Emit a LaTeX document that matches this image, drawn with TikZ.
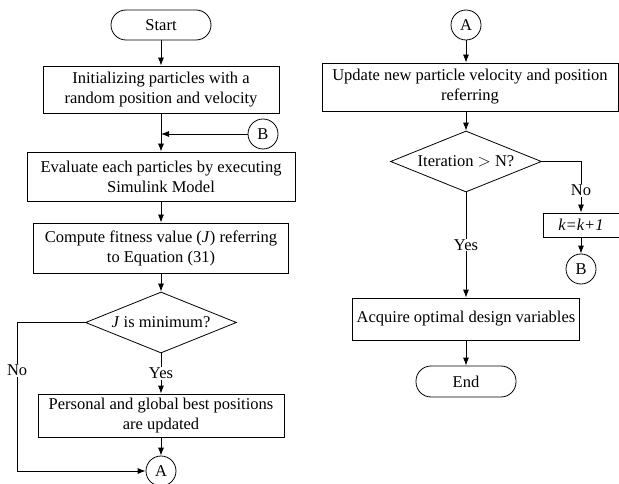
\documentclass[tikz,border=0pt]{standalone}
\usepackage{fontspec}
\setmainfont{Liberation Serif}
\usetikzlibrary{shapes.geometric,arrows.meta}

\begin{document}
\begin{tikzpicture}[
          font=\fontsize{16.5}{20}\selectfont,
          line width=0.8pt,
          >={Latex[length=8pt,width=6pt]},
          process/.style={draw, rectangle, align=center, minimum height=47pt, inner sep=2pt},
          terminal/.style={draw, rounded corners=15pt, minimum width=100pt, minimum height=30pt},
          decision/.style={draw, diamond, aspect=2.5, minimum width=151pt, minimum height=61pt, inner sep=0pt},
          connector/.style={draw, circle, minimum size=30pt, inner sep=0pt},
          ynlabel/.style={fill=white, inner sep=1pt},
          ]
          \useasboundingbox (0,0) rectangle (619pt,-484pt);

          % left column
          \node[terminal] (start) at (161pt,-25pt) {Start};
          \node[process, below of=start, node distance=64.5pt, minimum width=236pt] (init) {Initializing particles with a\\random position and velocity};
          \node[connector] (B1) at (263pt,-134pt) {B};
          \node[process, below of=init, node distance=87pt, minimum width=268pt, minimum height=49pt] (eval) {Evaluate each particles by executing\\Simulink Model};
          \node[process, below of=eval, node distance=71.5pt, minimum width=255pt, minimum height=50pt] (comp) {Compute fitness value (\textit{J}) referring\\to Equation (31)};
          \node[decision, below of=comp, node distance=74.5pt] (d1) {\textit{J} is minimum?};
          \node[process, below of=d1, node distance=93pt, minimum width=246pt, minimum height=43pt] (pers) {Personal and global best positions\\are updated};
          \node[connector, below of=pers, node distance=55.5pt] (A1) {A};

          \draw[->] (start) -- (init);
          \draw[->] (init) -- (eval);
          \draw[->] (B1) -- (B1 -| init);
          \draw[->] (eval) -- (comp);
          \draw[->] (comp) -- (d1);
          \draw[->] (d1) -- node[ynlabel]{Yes} (pers);
          \draw[->] (d1.west) -- ++(-68pt,0) |- node[ynlabel, pos=0.16]{No} (A1.west);
          \draw[->] (pers) -- (A1);

          % right column
          \node[connector] (A2) at (466pt,-25pt) {A};
          \node[process, below of=A2, node distance=62pt, xshift=4pt, minimum width=296pt, minimum height=48pt] (upd) {Update new particle velocity and position\\referring};
          \node[decision, below of=A2, node distance=136.5pt] (d2) {Iteration $>$ N?};
          \node[process, below of=d2, node distance=157.5pt, minimum width=227pt, minimum height=42pt] (acq) {Acquire optimal design variables};
          \node[terminal, below of=acq, node distance=62.5pt, minimum height=31pt] (end) {End};
          \node[process, minimum width=76pt, minimum height=24pt, inner sep=1pt] (kbox) at (581pt,-225pt) {\textit{k=k+1}};
          \node[connector, below of=kbox, node distance=44pt] (B2) {B};

          \draw[->] (A2) -- (A2 |- upd.north);
          \draw[->] (upd.south -| d2) -- (d2);
          \draw[->] (d2) -- node[ynlabel]{Yes} (acq);
          \draw[->] (d2.east) -| node[ynlabel, pos=0.78]{No} (kbox.north);
          \draw[->] (kbox) -- (B2);
          \draw[->] (acq) -- (end);

        \end{tikzpicture}
\end{document}
